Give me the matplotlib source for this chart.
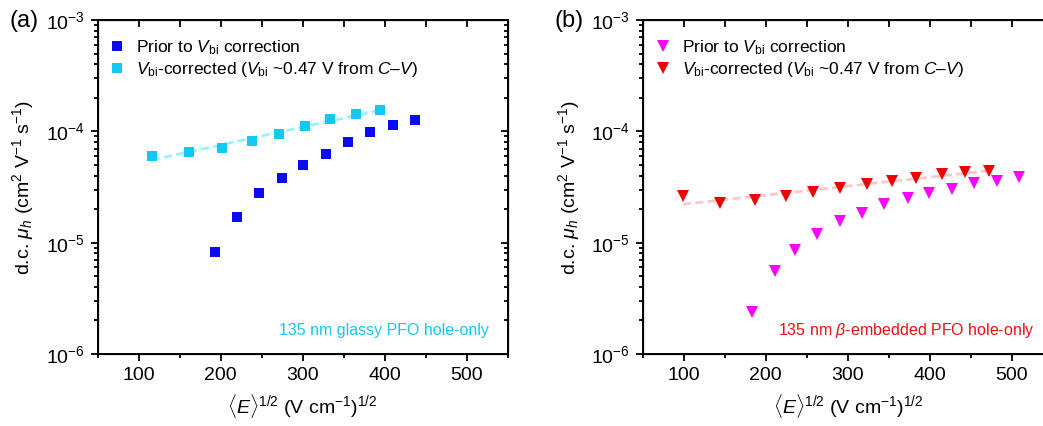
import numpy as np
import matplotlib
matplotlib.use('Agg')
import matplotlib.pyplot as plt
from matplotlib.ticker import MultipleLocator, LogLocator, FuncFormatter, NullFormatter

plt.rcParams['font.family'] = ['Liberation Sans', 'DejaVu Sans']
plt.rcParams['mathtext.fontset'] = 'custom'
plt.rcParams['mathtext.rm'] = 'Liberation Sans'
plt.rcParams['mathtext.it'] = 'Liberation Sans:italic'
plt.rcParams['mathtext.bf'] = 'Liberation Sans:bold'

# (a) glassy PFO
a_prior_x = [192.6, 219.4, 247.0, 274.6, 301.0, 328.6, 355.8, 382.2, 409.8, 437.0]
a_prior_y = [8.3e-6, 1.69e-5, 2.79e-5, 3.81e-5, 5.0e-5, 6.32e-5, 8.05e-5, 9.84e-5, 1.146e-4, 1.27e-4]
a_corr_x = [116.2, 161.7, 201.5, 238.1, 270.6, 302.6, 333.9, 364.8, 394.4]
a_corr_y = [6.06e-5, 6.55e-5, 7.06e-5, 8.11e-5, 9.37e-5, 1.114e-4, 1.30e-4, 1.44e-4, 1.55e-4]

# (b) beta-embedded PFO
b_prior_x = [183.1, 210.8, 235.2, 262.9, 290.6, 317.9, 344.4, 372.9, 399.4, 426.7, 454.4, 481.7, 508.6]
b_prior_y = [2.38e-6, 5.58e-6, 8.59e-6, 1.20e-5, 1.56e-5, 1.84e-5, 2.22e-5, 2.53e-5, 2.79e-5,
             3.05e-5, 3.41e-5, 3.61e-5, 3.87e-5]
b_corr_x = [98.8, 144.0, 187.2, 225.0, 257.6, 290.6, 322.8, 353.4, 383.1, 414.5, 443.0, 472.7]
b_corr_y = [2.61e-5, 2.27e-5, 2.43e-5, 2.63e-5, 2.83e-5, 3.12e-5, 3.39e-5, 3.58e-5, 3.81e-5,
            4.11e-5, 4.32e-5, 4.44e-5]

lab_prior = r'Prior to $V_{\rm bi}$ correction'
lab_corr = r'$V_{\rm bi}$-corrected ($V_{\rm bi}$ ~0.47 V from $C$–$V$)'


def pf_fit(x, y):
    # Poole-Frenkel: log10(mu) linear in sqrt(E)
    k, b = np.polyfit(x, np.log10(y), 1)
    xx = np.array([x[0], x[-1]])
    return xx, 10 ** (k * xx + b)


def log_ticks(axis):
    axis.set_major_locator(LogLocator(base=10, numticks=10))
    axis.set_minor_locator(LogLocator(base=10, subs=np.arange(2, 10), numticks=10))
    axis.set_minor_formatter(NullFormatter())


def style_axes(ax):
    ax.set_xlim(50, 550)
    ax.set_yscale('log')
    ax.set_ylim(1e-6, 1e-3)
    ax.xaxis.set_major_locator(MultipleLocator(100))
    ax.xaxis.set_minor_locator(MultipleLocator(50))
    log_ticks(ax.yaxis)
    ax.yaxis.set_major_formatter(FuncFormatter(lambda v, p: r'10$^{%d}$' % round(np.log10(v))))
    ax.tick_params(which='both', direction='out', width=1.3, labelsize=14, pad=4)
    ax.tick_params(which='major', length=5)
    ax.tick_params(which='minor', length=3)
    for s in ax.spines.values():
        s.set_linewidth(1.4)
    # mirrored ticks pointing inward on top and right
    tx = ax.twiny()
    tx.set_xlim(ax.get_xlim())
    tx.xaxis.set_major_locator(MultipleLocator(50))
    tx.tick_params(direction='in', length=5, width=1.3, labeltop=False)
    ry = ax.twinx()
    ry.set_yscale('log')
    ry.set_ylim(ax.get_ylim())
    log_ticks(ry.yaxis)
    ry.tick_params(which='both', direction='in', width=1.3, labelright=False)
    ry.tick_params(which='major', length=5)
    ry.tick_params(which='minor', length=3)
    ax.set_ylabel(r'd.c. $\mu_h$ (cm$^2$ V$^{-1}$ s$^{-1}$)', fontsize=14, labelpad=7)
    ax.set_xlabel(r'$\langle E\rangle^{1/2}$ (V cm$^{-1}$)$^{1/2}$', fontsize=14, labelpad=6)


def add_legend(ax):
    ax.legend(loc='upper left', bbox_to_anchor=(0.006, 0.966), fontsize=12.5, frameon=False,
              handletextpad=0.5, borderaxespad=0, labelspacing=0.2, handlelength=1.2)


fig = plt.figure(figsize=(10.43, 4.26), dpi=100)
ax1 = fig.add_axes([0.0935, 0.169, 0.3933, 0.784])
ax2 = fig.add_axes([0.6162, 0.169, 0.3933, 0.784])

# panel (a)
fx, fy = pf_fit(a_corr_x, a_corr_y)
ax1.plot(fx, fy, '--', color='#9af2f8', lw=2, dashes=(3, 1.5), zorder=1)
ax1.plot(a_prior_x, a_prior_y, 's', ms=7.2, color='#0a0af5', mew=0, label=lab_prior, zorder=2)
ax1.plot(a_corr_x, a_corr_y, 's', ms=7.2, color='#14c8f5', mew=0, label=lab_corr, zorder=2)
add_legend(ax1)
ax1.text(0.955, 0.07, '135 nm glassy PFO hole-only', transform=ax1.transAxes,
         ha='right', va='center', fontsize=11.5, color='#14c8f5')
style_axes(ax1)

# panel (b)
fx, fy = pf_fit(b_corr_x, b_corr_y)
ax2.plot(fx, fy, '--', color='#ffc8c8', lw=2, dashes=(3, 1.5), zorder=1)
ax2.plot(b_prior_x, b_prior_y, 'v', ms=9, color='#ff00ff', mew=0, label=lab_prior, zorder=2)
ax2.plot(b_corr_x, b_corr_y, 'v', ms=9, color='#f00000', mew=0, label=lab_corr, zorder=2)
add_legend(ax2)
ax2.text(0.955, 0.07, r'135 nm $\beta$-embedded PFO hole-only', transform=ax2.transAxes,
         ha='right', va='center', fontsize=11.5, color='#f01010')
style_axes(ax2)

fig.text(0.009, 0.951, '(a)', fontsize=17, va='center', ha='left')
fig.text(0.532, 0.951, '(b)', fontsize=17, va='center', ha='left')

fig.savefig('out.png', dpi=100)
